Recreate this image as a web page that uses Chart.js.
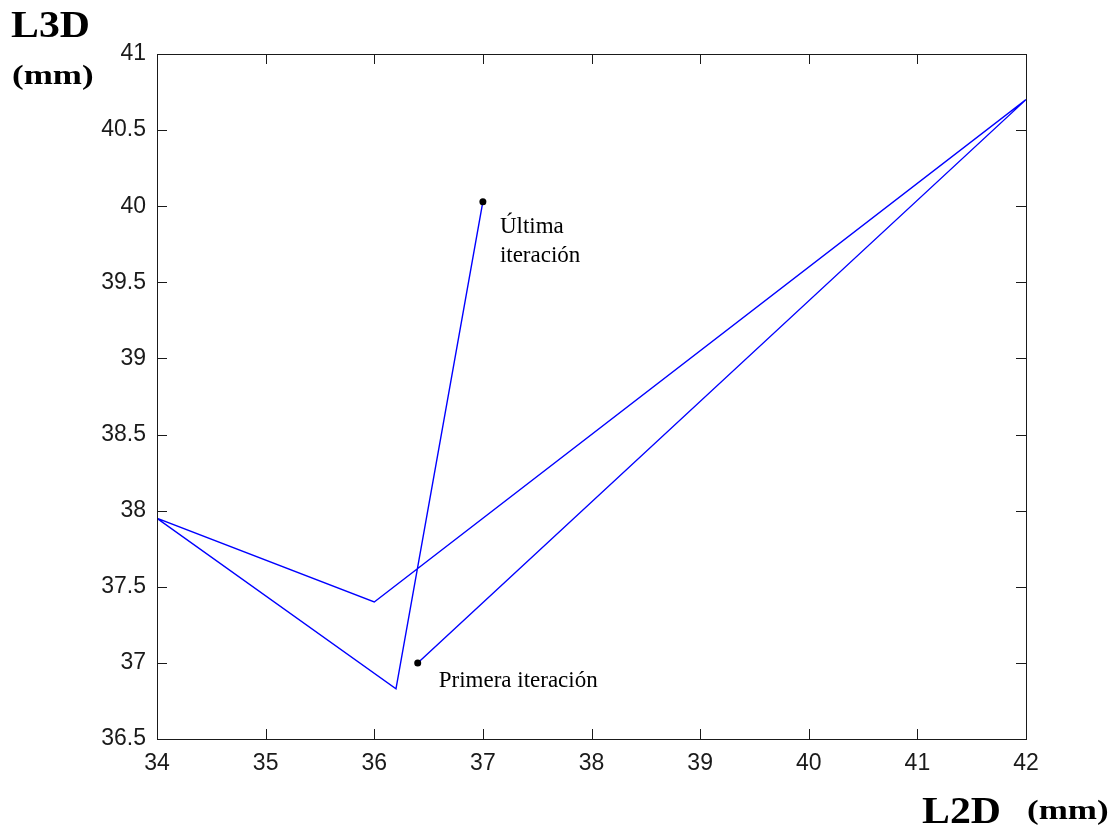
<!DOCTYPE html>
<html>
<head>
<meta charset="utf-8">
<title>L3D vs L2D</title>
<script src="https://cdn.jsdelivr.net/npm/chart.js@4/dist/chart.umd.min.js"></script>
<style>
  html, body { margin: 0; padding: 0; background: #fff; }
  #wrap { width: 1117px; height: 827px; }
</style>
</head>
<body>
<div id="wrap"><canvas id="c" width="1117" height="827"></canvas></div>
<script>
// Iteration path: L2D (mm) on x, L3D (mm) on y
const l2d = [36.4, 42.0, 36.0, 34.0, 36.2, 37.0];
const l3d = [37.0, 40.7, 37.4, 37.95, 36.83, 40.03];

// Axis ranges and tick steps
const xRange = [34, 42];
const yRange = [36.5, 41];
const xStep = 1;
const yStep = 0.5;

// Annotated endpoints
const firstLabel = ['Primera iteración'];
const lastLabel = ['Última', 'iteración'];

const points = l2d.map((x, i) => ({ x: x, y: l3d[i] }));
const lastIdx = points.length - 1;

const SERIF = '"Liberation Serif", "Times New Roman", serif';

// Text drawn with a horizontal stretch factor
function wideText(ctx, s, x, y, sx) {
  ctx.save();
  ctx.translate(x, y);
  ctx.scale(sx, 1);
  ctx.fillText(s, 0, 0);
  ctx.restore();
}

// Box around the plot area with inward tick marks on all four sides,
// axis titles and the endpoint annotations.
const framePlugin = {
  id: 'frame',
  afterDraw(chart) {
    const { ctx, chartArea: a, scales } = chart;
    const xs = scales.x, ys = scales.y;
    ctx.save();
    ctx.strokeStyle = '#1a1a1a';
    ctx.lineWidth = 1;
    ctx.strokeRect(Math.round(a.left) + 0.5, Math.round(a.top) + 0.5,
                   Math.round(a.right - a.left), Math.round(a.bottom - a.top));
    const tl = 10;
    ctx.beginPath();
    xs.ticks.forEach(t => {
      const px = Math.round(xs.getPixelForValue(t.value)) + 0.5;
      ctx.moveTo(px, a.bottom); ctx.lineTo(px, a.bottom - tl);
      ctx.moveTo(px, a.top); ctx.lineTo(px, a.top + tl);
    });
    ys.ticks.forEach(t => {
      const py = Math.round(ys.getPixelForValue(t.value)) + 0.5;
      ctx.moveTo(a.left, py); ctx.lineTo(a.left + tl, py);
      ctx.moveTo(a.right, py); ctx.lineTo(a.right - tl, py);
    });
    ctx.stroke();

    // Axis titles
    ctx.fillStyle = '#000';
    ctx.textBaseline = 'alphabetic';
    ctx.textAlign = 'left';
    ctx.font = 'bold 38px ' + SERIF;
    wideText(ctx, 'L3D', 11, 37, 1.1);
    wideText(ctx, 'L2D', 922, 823, 1.1);
    ctx.font = 'bold 28px ' + SERIF;
    wideText(ctx, '(mm)', 12, 84, 1.25);
    wideText(ctx, '(mm)', 1027, 819, 1.25);

    // Endpoint annotations
    ctx.font = '23px ' + SERIF;
    const p0x = xs.getPixelForValue(points[0].x);
    const p0y = ys.getPixelForValue(points[0].y);
    firstLabel.forEach((s, i) => ctx.fillText(s, p0x + 21, p0y + 24 + i * 29));
    const pnx = xs.getPixelForValue(points[lastIdx].x);
    const pny = ys.getPixelForValue(points[lastIdx].y);
    lastLabel.forEach((s, i) => ctx.fillText(s, pnx + 17, pny + 31 + i * 29));
    ctx.restore();
  }
};

const tickFont = { family: '"Liberation Sans", Arial, sans-serif', size: 23 };

new Chart(document.getElementById('c'), {
  type: 'scatter',
  data: {
    datasets: [{
      data: points,
      showLine: true,
      borderColor: '#0000ff',
      borderWidth: 1.4,
      backgroundColor: '#000',
      pointBackgroundColor: '#000',
      pointBorderColor: '#000',
      pointBorderWidth: 0,
      pointRadius: points.map((_, i) => (i === 0 || i === lastIdx) ? 3.5 : 0),
      tension: 0
    }]
  },
  options: {
    responsive: false,
    animation: false,
    events: [],
    layout: { padding: { left: 0, top: 54, right: 91, bottom: 0 } },
    plugins: { legend: { display: false }, tooltip: { enabled: false } },
    scales: {
      x: {
        type: 'linear',
        min: xRange[0], max: xRange[1],
        afterFit(s) { s.height = 88; },
        grid: { display: false, drawTicks: false },
        border: { display: false },
        ticks: { stepSize: xStep, padding: 11, color: '#1a1a1a', font: tickFont,
                 maxRotation: 0, autoSkip: false,
                 callback: v => String(v) }
      },
      y: {
        type: 'linear',
        min: yRange[0], max: yRange[1],
        afterFit(s) { s.width = 157; },
        grid: { display: false, drawTicks: false },
        border: { display: false },
        ticks: { stepSize: yStep, padding: 11, color: '#1a1a1a', font: tickFont,
                 autoSkip: false,
                 callback: v => String(v) }
      }
    }
  },
  plugins: [framePlugin]
});
</script>
</body>
</html>
